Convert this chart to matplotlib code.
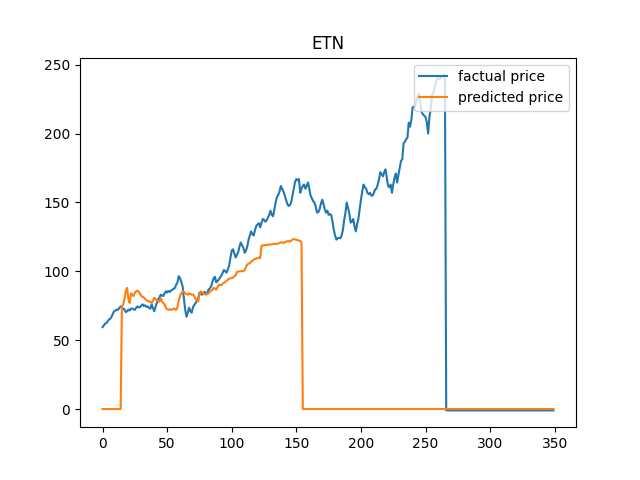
import numpy as np
import matplotlib
matplotlib.use("Agg")
import matplotlib.pyplot as plt

# factual price, days 0..265 (after that the series is -1)
factual_head = [
    59.5, 60.8, 62.0, 62.5, 63.8, 65.0, 65.6, 67.0, 69.2, 71.0,
    71.5, 72.3, 72.0, 73.4, 74.5, 73.6, 73.0, 72.1, 70.4, 71.0,
    72.2, 71.5, 72.8, 73.0, 72.4, 72.0, 73.5, 74.5, 73.8, 74.0,
    75.2, 76.0, 74.8, 75.3, 74.2, 74.5, 73.5, 72.8, 76.0, 73.4,
    71.0, 74.0, 77.0, 79.5, 81.0, 83.0, 82.5, 82.0, 84.0, 85.5,
    84.6, 85.8, 85.0, 86.0, 86.7, 87.2, 88.0, 90.3, 92.0, 96.5,
    95.0, 92.0, 89.0, 80.0, 72.0, 67.0, 70.0, 73.6, 71.0, 70.0,
    74.0, 75.5, 77.0, 78.6, 80.0, 84.5, 83.8, 83.0, 84.5, 85.0,
    83.6, 84.0, 86.7, 87.5, 89.0, 92.0, 95.0, 96.0, 92.0, 93.0,
    94.0, 95.5, 97.0, 99.0, 101.0, 100.0, 99.0, 101.5, 104.0, 110.0,
    115.0, 116.0, 113.0, 110.0, 112.0, 114.0, 118.0, 121.0, 119.0, 117.0,
    113.5, 115.0, 118.0, 123.0, 126.0, 129.0, 127.0, 126.0, 130.0, 133.0,
    134.0, 135.0, 132.0, 135.0, 138.0, 137.5, 136.0, 137.0, 139.0, 141.0,
    144.0, 141.0, 140.0, 145.0, 150.0, 154.0, 155.5, 158.0, 162.0, 160.0,
    158.0, 155.0, 152.0, 149.0, 147.5, 148.0, 150.0, 155.0, 160.0, 165.0,
    167.0, 166.0, 167.0, 157.0, 160.0, 162.0, 163.0, 160.0, 162.0, 164.5,
    160.0, 155.0, 153.0, 151.0, 150.0, 147.0, 142.6, 143.0, 145.0, 149.0,
    152.0, 149.0, 145.0, 142.6, 144.0, 141.0, 141.5, 141.0, 136.0, 130.0,
    126.0, 123.0, 124.0, 124.4, 124.0, 126.0, 130.0, 137.0, 142.6, 150.0,
    146.0, 142.0, 135.4, 136.0, 138.0, 133.0, 129.0, 134.0, 138.0, 145.0,
    152.0, 158.0, 163.0, 161.0, 160.0, 157.0, 156.0, 157.0, 155.0, 155.0,
    157.0, 159.6, 160.0, 163.0, 167.0, 172.0, 170.5, 169.0, 172.0, 174.0,
    168.0, 162.0, 161.0, 163.0, 157.0, 163.0, 168.0, 171.0, 164.5, 170.0,
    175.0, 180.0, 181.5, 193.0, 194.0, 196.0, 197.0, 208.0, 205.0, 210.0,
    219.0, 219.5, 220.0, 224.0, 227.0, 229.0, 222.0, 215.5, 214.0, 213.0,
    212.0, 208.0, 200.0, 212.0, 218.0, 228.0, 230.0, 233.0, 237.0, 240.0,
    240.0, 239.5, 241.0, 241.5, 243.0, 242.0,
]
factual_tail = [-1.0] * 84

# predicted price, days 15..154 (zero before and after)
predicted_mid = [
    74.5, 76.0, 80.0, 86.0, 88.0, 80.0, 77.0, 84.0, 83.0, 82.0,
    84.5, 85.5, 86.0, 85.0, 84.0, 82.0, 81.5, 81.0, 80.0, 79.0,
    78.5, 78.0, 78.0, 77.0, 78.5, 80.7, 80.0, 79.0, 78.5, 78.0,
    80.7, 78.0, 77.0, 76.0, 73.4, 72.5, 72.0, 72.5, 72.0, 72.3,
    73.0, 72.4, 72.0, 74.0, 79.0, 82.0, 84.0, 85.5, 85.0, 84.0,
    83.5, 83.0, 84.0, 83.5, 83.0, 83.2, 82.0, 80.0, 78.5, 78.0,
    83.0, 85.5, 84.5, 84.0, 83.6, 83.0, 83.5, 84.0, 85.0, 86.0,
    86.5, 88.0, 87.5, 86.7, 88.5, 90.4, 90.0, 90.0, 91.0, 91.6,
    92.5, 93.0, 94.0, 94.5, 95.0, 95.0, 95.5, 96.4, 97.0, 99.5,
    99.8, 100.0, 100.0, 100.2, 100.0, 101.0, 103.0, 105.0, 105.5, 106.0,
    107.0, 107.5, 108.6, 109.0, 109.2, 109.5, 110.0, 109.5, 118.5, 118.8,
    119.0, 119.0, 119.2, 119.4, 119.3, 119.5, 119.6, 119.8, 120.0, 119.8,
    120.0, 120.2, 120.5, 121.0, 121.0, 120.5, 121.2, 121.5, 121.8, 122.0,
    121.5, 122.3, 123.0, 123.5, 123.2, 123.0, 122.6, 122.3, 122.0, 121.0,
]
predicted_head = [0.0] * 15
predicted_tail = [0.0] * 195

factual = factual_head + factual_tail
predicted = predicted_head + predicted_mid + predicted_tail
days = np.arange(len(factual))

plt.figure(figsize=(6.4, 4.8), dpi=100)
plt.plot(days, factual, label="factual price")
plt.plot(days, predicted, label="predicted price")
plt.title("ETN")
plt.legend(loc="upper right")
plt.savefig("out.png")
